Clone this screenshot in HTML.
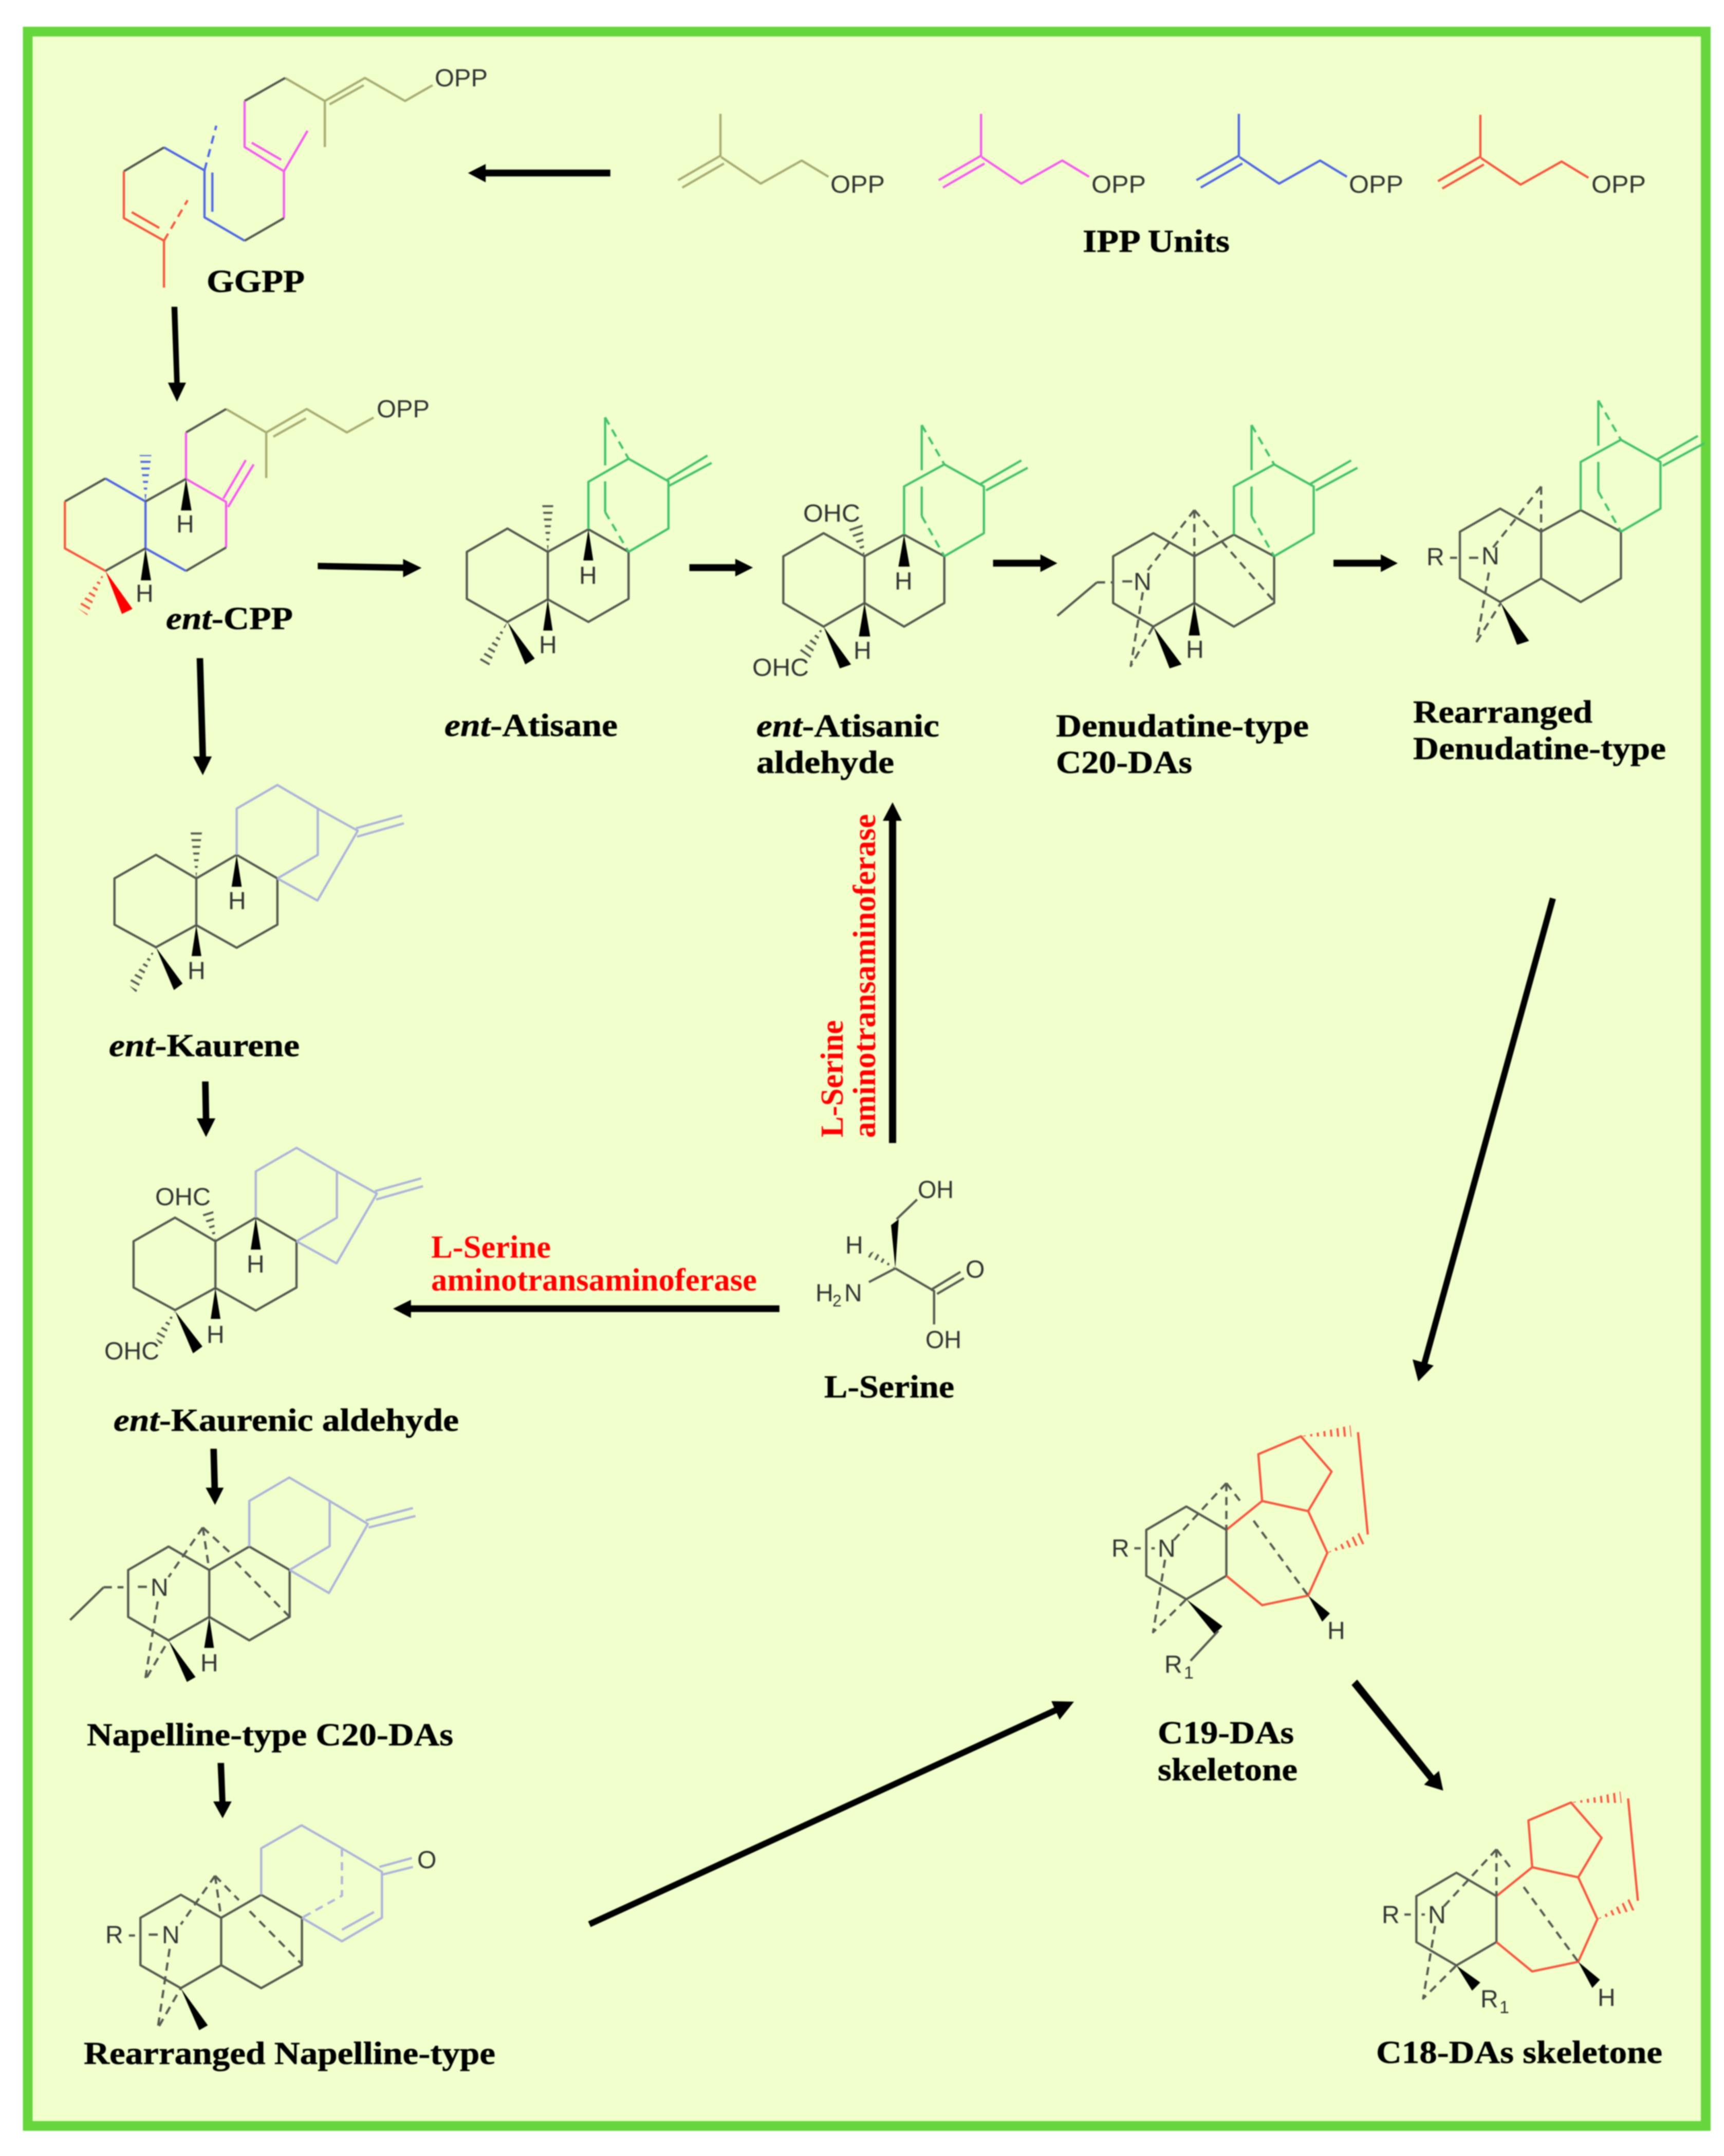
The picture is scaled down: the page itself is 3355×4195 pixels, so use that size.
<!DOCTYPE html>
<html><head><meta charset="utf-8"><style>
html,body{margin:0;padding:0;background:#fff}
svg{display:block;filter:blur(1px)}
path,line,polyline{vector-effect:non-scaling-stroke;fill:none;stroke-width:4.4;stroke-linejoin:round}
.g{stroke:#565a50}.o{stroke:#a9ad74}.p{stroke:#f55cf0}.b{stroke:#5268e4}.r{stroke:#f6583f}.n{stroke:#46c26c}.v{stroke:#aeb4da}
path.d{stroke-dasharray:16 11}
path.a{stroke:#000;stroke-width:12}
polygon{stroke:none}
.k{fill:#000}.hg{fill:#565a50}.hb{fill:#5268e4}.hr{fill:#f6583f}
path.m{stroke:#f0ffcc;stroke-width:32;stroke-dasharray:9 4}
text{font-family:"Liberation Sans",sans-serif}
.t{font-size:48px;fill:#333}
.c{font-family:"Liberation Serif",serif;font-weight:bold;font-size:62px;fill:#000;stroke:#000;stroke-width:.6}
.e{font-family:"Liberation Serif",serif;font-weight:bold;font-size:62px;fill:#f00}
</style></head><body>
<svg xmlns="http://www.w3.org/2000/svg" width="3355" height="4195" viewBox="0 0 3355 4195">
<rect width="3355" height="4195" fill="#fff"/>
<rect x="54" y="61.5" width="3265.500" height="4075" fill="#f0ffcc" stroke="#66d63c" stroke-width="19"/>
<defs>
<path id="u" d="M147 127V215M146 213L87 262M152 228L93 277M148 215L204 269L262 222L300 255"/>
<g id="atb">
<path class="g" d="M236 1027L293 980L351 1027V1122L293 1170L236 1122ZM351 1027L407 983L464 1027V1122L407 1170L351 1122"/>
<path class="n" d="M407 983V885L464 840L520 885V980L464 1027M515 880L573 832M523 893L582 847M432 760V852M432 885V945"/>
<path class="n d" d="M432 760L464 840M432 945L464 1027"/>
</g>
<g id="kb">
<path class="g" d="M175 480L290 432L402 480V575L290 620L175 574ZM402 480L514 432L627 480V574L514 621L402 575"/>
<path class="v" d="M514 432V338L627 290L739 338V432L627 480M739 338L850 383L738 525L627 480M845 378L973 352M848 395L978 368"/>
<polygon class="k" points="514,432 500,497 528,497"/><polygon class="k" points="402,575 389,638 416,638"/>
</g>
<g id="c19b">
<polygon class="hr" points="581,106 697,82 700,107"/><path class="m" d="M592 105L708 94"/>
<polygon class="hr" points="643,360 718,316 732,340"/><path class="m" d="M652 358L737 322"/>
<path class="g" d="M218 310L312 259L406 310V410L312 461L218 410Z"/>
<path class="r" d="M406 310L490 247L481 145L581 106L653 183L598 269L490 247M598 269L643 360L598 453L490 474L406 410M715 97L738 320"/>
<polygon class="k" points="598,453 631,510 649,492"/>
<path class="g d" d="M406 208V310M406 208L280 335M406 208L445 255M470 290L598 453M262 375L234 533L312 461"/>
<path class="g" d="M190 350H205M230 350H238"/>
</g>
</defs>

<!-- Zoom 1 region -->
<g transform="scale(.7653,.829)">
<polygon class="hb" points="370,1177 355,1068 385,1068"/><path class="m" d="M370 1160V1058"/>
<polygon class="hr" points="268,1340 197,1427 222,1444"/><path class="m" d="M276 1330L202 1445"/>
<path class="o" d="M1100 200L1030 237L928 183L826 237V345M838 245L925 200M826 237L725 183"/>
<path class="g" d="M725 183L622 237"/>
<path class="p" d="M622 237V345L722 402L782 307M640 335L715 375M722 402V512"/>
<path class="g" d="M722 512L622 565"/>
<path class="b" d="M622 565L520 510V400L417 346M540 405V497"/>
<path class="b d" d="M520 400L550 295"/>
<path class="g" d="M417 346L315 402"/>
<path class="r" d="M315 402V512L417 565V675M335 498L405 535"/>
<path class="r d" d="M417 565L477 470"/>
<polygon class="k" points="436,720 451,720 457,898 473,898 450,943 427,898 443,898"/>
<path class="o" d="M950 980L882 1015L780 960L677 1015V1122M695 1025L778 982M677 1015L575 960"/>
<path class="g" d="M575 960L473 1015"/>
<path class="p" d="M473 1015V1124L575 1178V1285M568 1170L625 1080M580 1190L645 1090"/>
<path class="g" d="M575 1285L473 1340"/>
<path class="b" d="M473 1340L370 1287V1177L268 1123"/>
<path class="g" d="M370 1177L473 1124M268 1123L165 1177M268 1340L370 1287"/>
<path class="r" d="M165 1177V1287L268 1340"/>
<polygon class="k" points="473,1124 460,1198 487,1198"/>
<polygon class="k" points="370,1287 358,1362 384,1362"/>
<polygon style="fill:#f00" points="268,1340 310,1441 337,1429"/>
<polygon class="k" points="808,1321 1025,1325 1025,1312 1072,1333 1025,1355 1025,1340 808,1336"/>
<polygon class="k" points="1552,398 1235,398 1235,385 1190,406 1235,428 1235,414 1552,414"/>
</g>

<!-- ent-Atisane -->
<g transform="translate(800,750) scale(.4464,.4783)">
<polygon class="hg" points="596,677 572,487 620,487"/><path class="m" d="M596 650V480"/>
<polygon class="hg" points="420,962 298,1118 340,1140"/><path class="m" d="M405 985L305 1145"/>
<path class="g" d="M243 677L420 582L596 677V870L420 962L243 868ZM596 677L773 585L948 677V868L773 962L596 870"/>
<path class="n" d="M773 585V392L948 298L1122 390V582L948 677M846 130V325M846 390V515M1115 385L1292 285M1125 408L1310 315"/>
<path class="n d" d="M846 130L948 298M846 515L948 677"/>
<polygon class="k" points="773,585 751,712 794,712"/>
<polygon class="k" points="596,870 576,997 617,997"/>
<polygon class="k" points="420,962 498,1135 539,1111"/>
</g>

<!-- Zoom 2 region -->
<g transform="translate(1200,100) scale(1.3744,.9566)">
<use href="#u" class="o"/>
<use href="#u" class="p" transform="translate(369,0)"/>
<use href="#u" class="b" transform="translate(734,0)"/>
<use href="#u" class="r" transform="translate(1076,2)"/>

<polygon class="hg" points="351,1027 327,967 348,960"/><path class="m" d="M353 1032L335 955"/>
<polygon class="hg" points="293,1170 255,1225 272,1242"/><path class="m" d="M300 1160L258 1245"/>
<use href="#atb"/>
<polygon class="k" points="407,983 399,1048 415,1048"/>
<polygon class="k" points="351,1122 343,1190 359,1190"/>
<polygon class="k" points="293,1170 316,1255 332,1247"/>

<use href="#atb" transform="translate(467,0)"/>
<path class="g" d="M624 1148L680 1080"/>
<path class="g d" d="M680 1080H703M818 933V1027M818 933L752 1055M818 933L933 1122M745 1100L728 1250L760 1170"/>
<path class="g" d="M716 1078H730"/>
<polygon class="k" points="760,1170 783,1255 800,1247"/>
<polygon class="k" points="818,1122 810,1188 826,1188"/>

<use href="#atb" transform="translate(958,-50)"/>
<path class="g d" d="M1309 885V977M1309 885L1235 1020M1235 1060L1218 1200L1252 1122"/>
<path class="g" d="M1180 1030H1190M1207 1030H1220"/>
<polygon class="k" points="1252,1122 1275,1207 1292,1199"/>

<polygon class="k" points="103,1043 168,1043 168,1032 193,1050 168,1068 168,1057 103,1057"/>
<polygon class="k" points="533,1034 600,1034 600,1023 624,1041 600,1059 600,1048 533,1048"/>
<polygon class="k" points="1015,1034 1082,1034 1082,1023 1106,1041 1082,1059 1082,1048 1015,1048"/>
</g>

<!-- Zoom 3 region -->
<g transform="translate(100,1250) scale(.7015,.9566)">
<polygon class="hg" points="402,480 386,385 418,385"/><path class="m" d="M402 468V378"/>
<polygon class="hg" points="290,620 212,695 235,712"/><path class="m" d="M298 612L218 715"/>
<polygon class="hg" points="456,1217 416,1158 448,1148"/><path class="m" d="M462 1225L428 1145"/>
<polygon class="hg" points="343,1360 285,1412 305,1430"/><path class="m" d="M350 1352L290 1430"/>
<use href="#kb"/>
<polygon class="k" points="290,620 340,707 364,694"/>
<use href="#kb" transform="translate(53,738)"/>
<polygon class="k" points="343,1360 393,1446 419,1432"/>
<polygon class="k" points="403,32 421,32 429,232 445,232 420,270 393,232 411,232"/>
<polygon class="k" points="418,893 436,893 438,968 455,968 429,1006 403,968 420,968"/>
</g>

<!-- Zoom 4 region -->
<g transform="translate(100,2750) scale(.7015,.861)">
<polygon class="k" points="441,80 459,80 462,168 478,168 454,207 428,168 444,168"/>
<path class="g" d="M213 354L325 301L438 354V460L325 513L213 460ZM438 354L549 301L661 354V460L549 513L438 460M52 467L145 393"/>
<path class="v" d="M549 301V198L660 145L772 198V300L661 354M772 198L878 250L770 406L661 354M872 242L1003 214M880 258L1010 232"/>
<path class="g d" d="M145 393H200M420 258L438 354M420 258L325 370M420 258L500 318M510 335L661 460M295 425L260 603L325 513"/>
<path class="g" d="M240 392H265"/>
<polygon class="k" points="325,513 376,607 400,596"/>
<polygon class="k" points="438,460 424,530 451,530"/>
<polygon class="k" points="461,790 479,790 483,877 500,877 475,915 449,877 466,877"/>
<path class="g" d="M247 1140L359 1088L471 1140V1247L359 1299L247 1247ZM471 1140L582 1088L695 1140V1247L582 1299L471 1247"/>
<path class="v" d="M582 1088V983L694 931L806 983L917 1036V1140L806 1193L695 1140M806 1167L895 1127M910 1025L1000 1005M915 1043L1003 1025"/>
<path class="v d" d="M806 983V1090L695 1140"/>
<path class="g d" d="M454 1045L471 1140M454 1045L359 1155M454 1045L520 1100M550 1125L695 1245M328 1210L295 1390L359 1299"/>
<path class="g" d="M215 1180H232M270 1178H295"/>
<polygon class="k" points="359,1299 410,1394 434,1383"/>
</g>

<!-- C19 / C18 -->
<g transform="translate(2050,2700) scale(.829,.893)">
<use href="#c19b"/>
<use href="#c19b" transform="translate(634,798)"/>
<polygon class="k" points="312,461 378,537 397,520"/>
<path class="g" d="M387 530L322 595"/>
<polygon class="k" points="946,1259 983,1314 1002,1296"/>
<polygon class="k" points="700,648 713,636 893,845 905,835 915,878 870,865 881,855"/>
</g>

<!-- Serine -->
<g transform="translate(750,2200) scale(.829,.3827)">
<polygon class="hg" points="1197,700 1125,635 1148,612"/><path class="m" d="M1205 712L1130 615"/>
<path class="g" d="M1248 350L1200 450M1197 700L1135 770M1197 700L1288 815V985M1280 810L1350 718M1295 830L1358 750"/>
<polygon class="k" points="1197,700 1187,480 1205,450"/>
<polygon class="k" points="925,888 60,888 60,860 18,905 60,952 60,922 925,922"/>
</g>

<polygon class="k" points="1730,2224 1730,1597 1718,1597 1737,1561 1755,1597 1744,1597 1744,2224"/>
<path class="a" d="M3022 1748L2770 2660"/>
<polygon class="k" points="2760,2688 2749,2645 2790,2657"/>
<path class="a" d="M1147 3744L2060 3325"/>
<polygon class="k" points="2090,3311 2046,3310 2062,3346"/>

<!-- Atom labels -->
<text class="t" x="846" y="168" textLength="103" lengthAdjust="spacingAndGlyphs">OPP</text>
<text class="t" x="733" y="812" textLength="103" lengthAdjust="spacingAndGlyphs">OPP</text>
<text class="t" x="1616" y="375" textLength="106" lengthAdjust="spacingAndGlyphs">OPP</text>
<text class="t" x="2124" y="375" textLength="106" lengthAdjust="spacingAndGlyphs">OPP</text>
<text class="t" x="2625" y="375" textLength="106" lengthAdjust="spacingAndGlyphs">OPP</text>
<text class="t" x="3097" y="375" textLength="106" lengthAdjust="spacingAndGlyphs">OPP</text>
<text class="t" x="343" y="1036">H</text><text class="t" x="264" y="1171">H</text>
<text class="t" x="1127" y="1136">H</text><text class="t" x="1049" y="1271">H</text>
<text class="t" x="1563" y="1015" textLength="111" lengthAdjust="spacingAndGlyphs">OHC</text>
<text class="t" x="1464" y="1315" textLength="110" lengthAdjust="spacingAndGlyphs">OHC</text>
<text class="t" x="1741" y="1147">H</text><text class="t" x="1661" y="1282">H</text>
<text class="t" x="2206" y="1148">N</text><text class="t" x="2308" y="1280">H</text>
<text class="t" x="2776" y="1100">R</text><text class="t" x="2883" y="1098">N</text>
<text class="t" x="444" y="1769">H</text><text class="t" x="365" y="1905">H</text>
<text class="t" x="302" y="2345" textLength="108" lengthAdjust="spacingAndGlyphs">OHC</text>
<text class="t" x="203" y="2645" textLength="107" lengthAdjust="spacingAndGlyphs">OHC</text>
<text class="t" x="480" y="2476">H</text><text class="t" x="402" y="2613">H</text>
<text class="t" x="293" y="3105">N</text><text class="t" x="390" y="3252">H</text>
<text class="t" x="205" y="3781">R</text><text class="t" x="315" y="3781">N</text><text class="t" x="812" y="3635">O</text>
<text class="t" x="2163" y="3029">R</text><text class="t" x="2253" y="3029">N</text><text class="t" x="2583" y="3189">H</text>
<text class="t" x="2266" y="3255">R</text><text class="t" x="2304" y="3266" style="font-size:34px">1</text>
<text class="t" x="2689" y="3742">R</text><text class="t" x="2779" y="3742">N</text><text class="t" x="3109" y="3903">H</text>
<text class="t" x="2881" y="3906">R</text><text class="t" x="2918" y="3917" style="font-size:34px">1</text>
<text class="t" x="1786" y="2331" textLength="70" lengthAdjust="spacingAndGlyphs">OH</text>
<text class="t" x="1645" y="2439">H</text>
<text class="t" x="1587" y="2532">H</text><text class="t" x="1620" y="2542" style="font-size:32px">2</text><text class="t" x="1643" y="2532">N</text>
<text class="t" x="1879" y="2486">O</text>
<text class="t" x="1801" y="2623" textLength="70" lengthAdjust="spacingAndGlyphs">OH</text>

<!-- Captions -->
<text class="c" x="402" y="568" textLength="191" lengthAdjust="spacingAndGlyphs">GGPP</text>
<text class="c" x="2107" y="490" textLength="286" lengthAdjust="spacingAndGlyphs">IPP Units</text>
<text class="c" x="323" y="1224" textLength="247" lengthAdjust="spacingAndGlyphs"><tspan font-style="italic">ent</tspan>-CPP</text>
<text class="c" x="865" y="1432" textLength="337" lengthAdjust="spacingAndGlyphs"><tspan font-style="italic">ent</tspan>-Atisane</text>
<text class="c" x="1472" y="1433" textLength="356" lengthAdjust="spacingAndGlyphs"><tspan font-style="italic">ent</tspan>-Atisanic</text>
<text class="c" x="1472" y="1504" textLength="268" lengthAdjust="spacingAndGlyphs">aldehyde</text>
<text class="c" x="2055" y="1433" textLength="492" lengthAdjust="spacingAndGlyphs">Denudatine-type</text>
<text class="c" x="2055" y="1504" textLength="265" lengthAdjust="spacingAndGlyphs">C20-DAs</text>
<text class="c" x="2750" y="1406" textLength="349" lengthAdjust="spacingAndGlyphs">Rearranged</text>
<text class="c" x="2750" y="1477" textLength="492" lengthAdjust="spacingAndGlyphs">Denudatine-type</text>
<text class="c" x="212" y="2055" textLength="371" lengthAdjust="spacingAndGlyphs"><tspan font-style="italic">ent</tspan>-Kaurene</text>
<text class="c" x="221" y="2784" textLength="672" lengthAdjust="spacingAndGlyphs"><tspan font-style="italic">ent</tspan>-Kaurenic aldehyde</text>
<text class="c" x="169" y="3396" textLength="713" lengthAdjust="spacingAndGlyphs">Napelline-type C20-DAs</text>
<text class="c" x="163" y="4016" textLength="801" lengthAdjust="spacingAndGlyphs">Rearranged Napelline-type</text>
<text class="c" x="1604" y="2719" textLength="253" lengthAdjust="spacingAndGlyphs">L-Serine</text>
<text class="c" x="2253" y="3392" textLength="265" lengthAdjust="spacingAndGlyphs">C19-DAs</text>
<text class="c" x="2253" y="3464" textLength="272" lengthAdjust="spacingAndGlyphs">skeletone</text>
<text class="c" x="2678" y="4014" textLength="557" lengthAdjust="spacingAndGlyphs">C18-DAs skeletone</text>
<text class="e" x="839" y="2447" textLength="233" lengthAdjust="spacingAndGlyphs">L-Serine</text>
<text class="e" x="839" y="2511" textLength="634" lengthAdjust="spacingAndGlyphs">aminotransaminoferase</text>
<text class="e" transform="translate(1640,2213) rotate(-90)" textLength="228" lengthAdjust="spacingAndGlyphs">L-Serine</text>
<text class="e" transform="translate(1703,2214) rotate(-90)" textLength="630" lengthAdjust="spacingAndGlyphs">aminotransaminoferase</text>
</svg>
</body></html>
